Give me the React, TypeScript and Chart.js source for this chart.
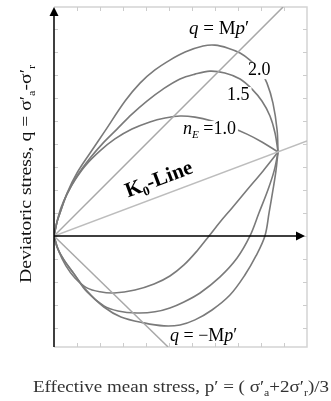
import React, { useEffect, useRef } from "react";
import { Chart, registerables } from "chart.js";

Chart.register(...registerables);

// ---- data (p', q) in plot units ----
const P_MIN = 0;
const P_MAX = 11;
const Q_MIN = -4.83;
const Q_MAX = 9.96;

const upper10P = [0, 0.13, 0.3, 0.57, 0.91, 1.39, 2.0, 2.65, 3.39, 4.17, 4.83, 5.48, 6.13, 6.87, 7.65, 8.39, 9.04, 9.74];
const upper10Q = [0, 0.61, 1.22, 1.83, 2.43, 3.09, 3.7, 4.22, 4.65, 4.96, 5.13, 5.22, 5.17, 5.0, 4.74, 4.43, 4.09, 3.65];
const lower10P = [0, 0.22, 0.52, 0.91, 1.43, 2.0, 2.61, 3.52, 4.35, 5.04, 5.65, 6.22, 6.74, 7.22, 7.74, 8.39, 9.09, 9.74];
const lower10Q = [0, -0.7, -1.3, -1.83, -2.26, -2.43, -2.48, -2.35, -2.09, -1.74, -1.26, -0.65, 0, 0.61, 1.22, 2.0, 2.83, 3.65];

const upper15P = [0, 0.13, 0.26, 0.57, 1.0, 1.57, 2.13, 2.74, 3.39, 4.04, 4.74, 5.48, 6.13, 6.78, 7.43, 8.09, 8.61, 9.04, 9.39, 9.61, 9.74];
const upper15Q = [0, 0.61, 1.0, 1.83, 2.61, 3.39, 4.04, 4.65, 5.3, 5.87, 6.39, 6.83, 7.04, 7.17, 7.09, 6.83, 6.39, 5.87, 5.22, 4.48, 3.65];
const lower15P = [0, 0.17, 0.43, 0.87, 1.43, 2.17, 2.78, 3.61, 4.39, 5.04, 5.65, 6.35, 7.22, 7.96, 8.52, 8.91, 9.3, 9.57, 9.74];
const lower15Q = [0, -0.57, -1.04, -1.65, -2.43, -3.04, -3.26, -3.35, -3.3, -3.13, -2.87, -2.48, -1.78, -0.96, 0, 1.0, 2.0, 2.83, 3.65];

const upper20P = [0, 0.13, 0.26, 0.57, 1.0, 1.57, 2.22, 3.09, 3.74, 4.39, 5.04, 5.7, 6.48, 7.0, 7.57, 8.09, 8.52, 8.96, 9.26, 9.52, 9.7, 9.74];
const upper20Q = [0, 0.61, 1.0, 1.87, 2.74, 3.61, 4.57, 5.87, 6.65, 7.22, 7.65, 8.0, 8.26, 8.3, 8.17, 7.96, 7.65, 7.22, 6.65, 5.78, 4.61, 3.65];
const lower20P = [0, 0.13, 0.43, 0.87, 1.43, 2.17, 2.91, 3.91, 4.78, 5.48, 6.13, 6.87, 7.65, 8.3, 8.78, 9.17, 9.35, 9.52, 9.65, 9.74];
const lower20Q = [0, -0.48, -1.04, -1.65, -2.39, -3.09, -3.52, -3.78, -3.91, -3.87, -3.65, -3.22, -2.57, -1.7, -0.87, 0, 1.0, 2.0, 2.83, 3.65];

const csP = [0, 9.96];
const csQ = [0, 9.96];
const csNegP = [0, 4.96];
const csNegQ = [0, -4.83];
const k0P = [0, 11];
const k0Q = [0, 4.13];

const xTicks = [1, 2, 3, 4, 5, 6, 7, 8, 9, 10];
const yTicks = [-4, -3, -2, -1, 0, 1, 2, 3, 4, 5, 6, 7, 8, 9];

// ---- text helpers ----
type Seg = { t: string; i?: boolean; s?: boolean };
const FAMILY = '"Liberation Serif", "Times New Roman", serif';
function fnt(size: number, it?: boolean, bold?: boolean) {
  return `${it ? "italic " : ""}${bold ? "bold " : ""}${size}px ${FAMILY}`;
}
function measureRich(ctx: CanvasRenderingContext2D, segs: Seg[], size: number, bold = false) {
  let w = 0;
  for (const s of segs) {
    ctx.font = fnt(s.s ? size * 0.62 : size, s.i, bold);
    w += ctx.measureText(s.t).width;
  }
  return w;
}
function drawRich(
  ctx: CanvasRenderingContext2D,
  segs: Seg[],
  x: number,
  y: number,
  size: number,
  align: "left" | "center" | "right",
  bold = false
) {
  const w = measureRich(ctx, segs, size, bold);
  let cx = align === "center" ? x - w / 2 : align === "right" ? x - w : x;
  ctx.textAlign = "left";
  ctx.textBaseline = "alphabetic";
  for (const s of segs) {
    const sz = s.s ? size * 0.62 : size;
    ctx.font = fnt(sz, s.i, bold);
    ctx.fillText(s.t, cx, y + (s.s ? size * 0.22 : 0));
    cx += ctx.measureText(s.t).width;
  }
  return w;
}
function drawRichFit(ctx: CanvasRenderingContext2D, segs: Seg[], size: number, targetW: number) {
  const w = measureRich(ctx, segs, size);
  ctx.save();
  ctx.scale(targetW / w, 1);
  drawRich(ctx, segs, 0, 0, size, "center");
  ctx.restore();
}

const labelMp: Seg[] = [{ t: "q", i: true }, { t: " = M" }, { t: "p", i: true }, { t: "\u2032" }];
const labelNegMp: Seg[] = [{ t: "q", i: true }, { t: " = \u2212M" }, { t: "p", i: true }, { t: "\u2032" }];
const label20: Seg[] = [{ t: "2.0" }];
const label15: Seg[] = [{ t: "1.5" }];
const label10: Seg[] = [{ t: "n", i: true }, { t: "E", i: true, s: true }, { t: " =1.0" }];
const labelK0: Seg[] = [{ t: "K" }, { t: "0", s: true }, { t: "-Line" }];
const yTitle: Seg[] = [
  { t: "Deviatoric stress, q = \u03c3\u2032" },
  { t: "a", s: true },
  { t: "-\u03c3\u2032" },
  { t: "r", s: true },
];
const xTitle: Seg[] = [
  { t: "Effective mean stress, p\u2032 = ( \u03c3\u2032" },
  { t: "a", s: true },
  { t: "+2\u03c3\u2032" },
  { t: "r", s: true },
  { t: ")/3" },
];

function pts(ps: number[], qs: number[]) {
  return ps.map((p, k) => ({ x: p, y: qs[k] }));
}

const decoPlugin = {
  id: "deco",
  beforeDatasetsDraw(chart: any) {
    const { ctx, chartArea: a, scales } = chart;
    const x = scales.x;
    const y = scales.y;
    ctx.save();
    ctx.strokeStyle = "#d4d4d4";
    ctx.lineWidth = 1.5;
    ctx.beginPath();
    ctx.moveTo(a.left, a.top);
    ctx.lineTo(a.right, a.top);
    ctx.lineTo(a.right, a.bottom);
    ctx.lineTo(a.left, a.bottom);
    ctx.stroke();
    ctx.strokeStyle = "#cccccc";
    ctx.lineWidth = 1;
    ctx.beginPath();
    for (const v of xTicks) {
      const px = Math.round(x.getPixelForValue(v)) + 0.5;
      ctx.moveTo(px, a.top);
      ctx.lineTo(px, a.top + 4);
      ctx.moveTo(px, a.bottom);
      ctx.lineTo(px, a.bottom - 4);
    }
    for (const v of yTicks) {
      const py = Math.round(y.getPixelForValue(v)) + 0.5;
      ctx.moveTo(a.right, py);
      ctx.lineTo(a.right - 4, py);
      ctx.moveTo(a.left, py);
      ctx.lineTo(a.left + 4, py);
    }
    ctx.stroke();
    ctx.restore();
  },
  afterDatasetsDraw(chart: any) {
    const { ctx, chartArea: a, scales } = chart;
    const y = scales.y;
    const x = scales.x;
    const ox = x.getPixelForValue(0);
    const oy = y.getPixelForValue(0);
    ctx.save();
    // axes
    ctx.strokeStyle = "#000";
    ctx.fillStyle = "#000";
    ctx.lineWidth = 1.5;
    ctx.beginPath();
    ctx.moveTo(ox, a.bottom);
    ctx.lineTo(ox, a.top + 8);
    ctx.moveTo(ox, oy);
    ctx.lineTo(a.right - 10, oy);
    ctx.stroke();
    ctx.beginPath();
    ctx.moveTo(ox, a.top);
    ctx.lineTo(ox - 4.5, a.top + 9);
    ctx.lineTo(ox + 4.5, a.top + 9);
    ctx.closePath();
    ctx.fill();
    ctx.beginPath();
    ctx.moveTo(a.right - 2, oy);
    ctx.lineTo(a.right - 11, oy - 4.5);
    ctx.lineTo(a.right - 11, oy + 4.5);
    ctx.closePath();
    ctx.fill();

    // labels with white background
    const boxed = (segs: Seg[], lx: number, by: number, size: number) => {
      const w = measureRich(ctx, segs, size);
      ctx.fillStyle = "#fff";
      ctx.fillRect(lx - 2, by - size * 0.72, w + 4, size * 0.95);
      ctx.fillStyle = "#000";
      drawRich(ctx, segs, lx, by, size, "left");
    };
    boxed(label20, 248, 75, 18);
    boxed(label15, 227, 100, 18);
    boxed(label10, 183, 134, 18);

    ctx.fillStyle = "#000";
    drawRich(ctx, labelMp, 189, 34, 19, "left");
    drawRich(ctx, labelNegMp, 170, 341, 18, "left");

    // K0 line label
    ctx.save();
    ctx.translate(161, 185);
    ctx.rotate(-Math.atan(0.375));
    drawRich(ctx, labelK0, 0, 0, 21, "center", true);
    ctx.restore();

    // axis titles
    ctx.fillStyle = "#111";
    ctx.save();
    ctx.translate(31, 174);
    ctx.rotate(-Math.PI / 2);
    drawRichFit(ctx, yTitle, 17, 218);
    ctx.restore();
    ctx.fillStyle = "#333";
    ctx.save();
    ctx.translate(181, 392);
    drawRichFit(ctx, xTitle, 16, 296);
    ctx.restore();
    ctx.restore();
  },
};

const CURVE = "#7a7a7a";
const LINE = "#a8a8a8";
const K0C = "#bdbdbd";

export default function App() {
  const ref = useRef<HTMLCanvasElement | null>(null);
  useEffect(() => {
    if (!ref.current) return;
    const curve = (ps: number[], qs: number[]) => ({
      data: pts(ps, qs),
      showLine: true,
      borderColor: CURVE,
      borderWidth: 1.6,
      pointRadius: 0,
      fill: false,
      tension: 0.35,
    });
    const straight = (ps: number[], qs: number[], c: string) => ({
      data: pts(ps, qs),
      showLine: true,
      borderColor: c,
      borderWidth: 1.5,
      pointRadius: 0,
      fill: false,
      tension: 0,
    });
    const chart = new Chart(ref.current, {
      type: "scatter",
      data: {
        datasets: [
          straight(k0P, k0Q, K0C),
          straight(csP, csQ, LINE),
          straight(csNegP, csNegQ, LINE),
          curve(upper10P, upper10Q),
          curve(lower10P, lower10Q),
          curve(upper15P, upper15Q),
          curve(lower15P, lower15Q),
          curve(upper20P, upper20Q),
          curve(lower20P, lower20Q),
        ] as any,
      },
      options: {
        responsive: false,
        devicePixelRatio: 1,
        animation: false,
        layout: { padding: { left: 54, top: 7, right: 24, bottom: 54 } },
        plugins: { legend: { display: false }, tooltip: { enabled: false } },
        scales: {
          x: { type: "linear", min: P_MIN, max: P_MAX, display: false },
          y: { type: "linear", min: Q_MIN, max: Q_MAX, display: false },
        },
      },
      plugins: [decoPlugin],
    });
    return () => chart.destroy();
  }, []);
  return (
    <canvas
      ref={ref}
      width={331}
      height={401}
      style={{ position: "absolute", left: 0, top: 0, width: 331, height: 401, display: "block" }}
    />
  );
}
